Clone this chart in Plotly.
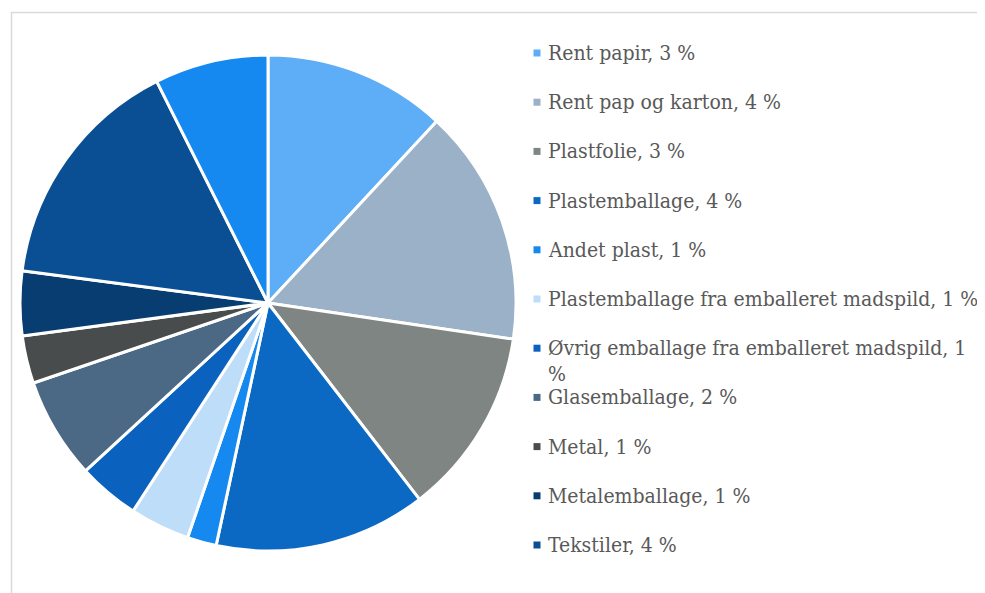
import plotly.graph_objects as go

W, H = 985, 593
OFF = 8  # page body margin in the screenshot

categories = [
    "Rent papir", "Rent pap og karton", "Plastfolie", "Plastemballage",
    "Andet plast", "Plastemballage fra emballeret madspild",
    "Øvrig emballage fra emballeret madspild", "Glasemballage", "Metal",
    "Metalemballage", "Tekstiler", "Restaffald",
]
# slice shares (percent of the pie)
shares = [11.9, 15.4, 12.2, 13.8, 1.9, 3.9, 4.0, 6.6, 3.1, 4.2, 15.5, 7.4]
# percentages shown in the legend text
legend_pct = ["3 %", "4 %", "3 %", "4 %", "1 %", "1 %", "1 %", "2 %", "1 %", "1 %", "4 %"]
colors = [
    "#5DAEF6", "#9BB1C7", "#7F8583", "#0B69C4", "#1589F0", "#BEDDF8",
    "#0B62BE", "#4B6884", "#484C4C", "#073D70", "#0A4F93", "#1589F0",
]


def px(x):
    return (x - OFF) / W


def py(y):
    return 1 - (y - OFF) / H


fig = go.Figure()
fig.add_trace(go.Pie(
    labels=categories,
    values=shares,
    sort=False,
    direction="clockwise",
    rotation=0,
    marker=dict(colors=colors, line=dict(color="white", width=3)),
    textinfo="none",
    hoverinfo="label",
    showlegend=False,
    domain=dict(x=[px(20), px(516)], y=[py(551), py(55)]),
))

shapes = [dict(type="rect", xref="paper", yref="paper",
               x0=px(11.5), x1=px(W + 20), y0=py(H + 20), y1=py(12.5),
               line=dict(color="#D9D9D9", width=1.5), fillcolor="rgba(0,0,0,0)",
               layer="below")]
annotations = []
font = dict(family="DejaVu Serif Condensed", size=21, color="#595959")
row0, step = 53, 49.2
for i, pct in enumerate(legend_pct):
    yc = row0 + i * step
    shapes.append(dict(type="rect", xref="paper", yref="paper",
                       x0=px(533.5), x1=px(540.5), y0=py(yc + 3.5), y1=py(yc - 3.5),
                       line=dict(width=0), fillcolor=colors[i]))
    label = f"{categories[i]}, {pct}"
    lines = [label]
    if i == 6:
        lines = [label[:-2], "%"]
    for j, line in enumerate(lines):
        annotations.append(dict(xref="paper", yref="paper", x=px(546), y=py(yc + j * 26),
                                xanchor="left", yanchor="middle", showarrow=False,
                                text=line, font=font))

fig.update_layout(
    width=W, height=H,
    margin=dict(l=0, r=0, t=0, b=0),
    paper_bgcolor="white",
    plot_bgcolor="white",
    shapes=shapes,
    annotations=annotations,
)

fig.write_html("out.html")
